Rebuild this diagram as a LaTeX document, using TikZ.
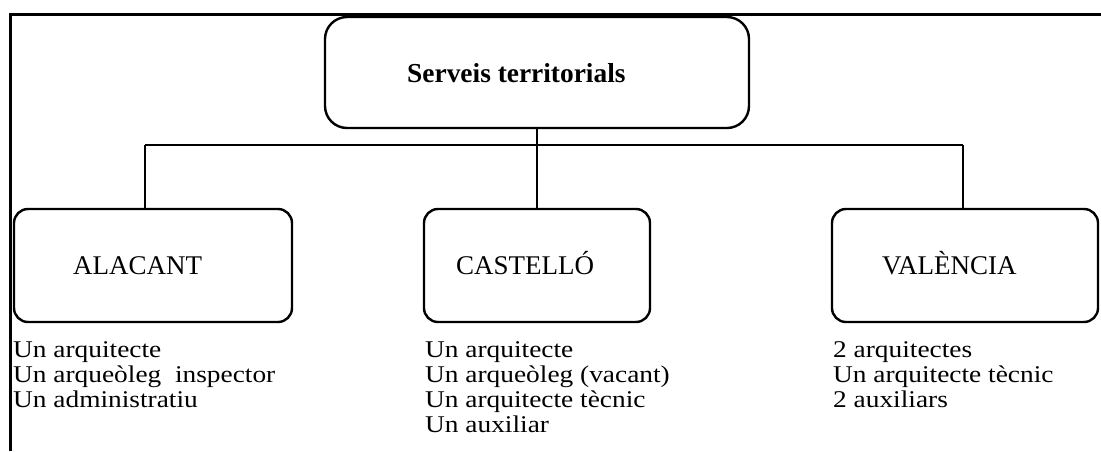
\documentclass[tikz,border=0pt]{standalone}
\usepackage{fontspec}
\setmainfont{Liberation Serif}
\newfontfamily\listfont[FakeStretch=1.14]{Liberation Serif}
\begin{document}
\begin{tikzpicture}[x=1pt,y=-1pt,
  frameline/.style={line width=3pt},
  conn/.style={line width=2.4pt},
  topbox/.style={draw, line width=2.4pt, rounded corners=22pt, inner sep=0pt, minimum width=424pt, minimum height=111pt},
  citybox/.style={draw, line width=2.4pt, rounded corners=14pt, inner sep=0pt, minimum height=113pt},
  boxlabel/.style={anchor=base west, inner sep=0pt, font=\fontsize{27}{30}\selectfont},
  titlelabel/.style={anchor=base west, inner sep=0pt, font=\bfseries\fontsize{27.4}{30}\selectfont},
  listtext/.style={anchor=base west, inner sep=0pt, font=\listfont\fontsize{24}{25}\selectfont}
]
\useasboundingbox (0,0) rectangle (1101,451);
% frame
\coordinate (fTL) at (10,14);
\coordinate (fTR) at (1101,14);
\coordinate (fBL) at (10,451);
\draw[frameline] (fTR) -- (fTL) -- (fBL);
% boxes
\node[topbox] (top) at (537,72.5) {};
\node[citybox, minimum width=278pt] (alacant) at (153,265.5) {};
\node[citybox, minimum width=226pt] (castello) at (537,265.5) {};
\node[citybox, minimum width=266pt] (valencia) at (965,265.5) {};
% labels
\node[titlelabel] (ttop) at (407,82) {Serveis territorials};
\node[boxlabel] (tala) at (73,274) {ALACANT};
\node[boxlabel] (tcas) at (456,274) {CASTELLÓ};
\node[boxlabel] (tval) at (882,274) {VALÈNCIA};
% connectors
\coordinate (busL) at (145,145);
\coordinate (busR) at (963,145);
\draw[conn] (busL) -- (busR);
\draw[conn] (top.south) -- (castello.north);
\draw[conn] (busL) -- (busL |- alacant.north);
\draw[conn] (busR) -- (busR |- valencia.north);
% staff lists
\node[listtext] (lala) at (13,357) {\begin{tabular}[t]{@{}l@{}}Un arquitecte\\Un arqueòleg\ \ inspector\\Un administratiu\end{tabular}};
\node[listtext] (lcas) at (425,357) {\begin{tabular}[t]{@{}l@{}}Un arquitecte\\Un arqueòleg (vacant)\\Un arquitecte tècnic\\Un auxiliar\end{tabular}};
\node[listtext] (lval) at (833,357) {\begin{tabular}[t]{@{}l@{}}2 arquitectes\\Un arquitecte tècnic\\2 auxiliars\end{tabular}};
\end{tikzpicture}
\end{document}
